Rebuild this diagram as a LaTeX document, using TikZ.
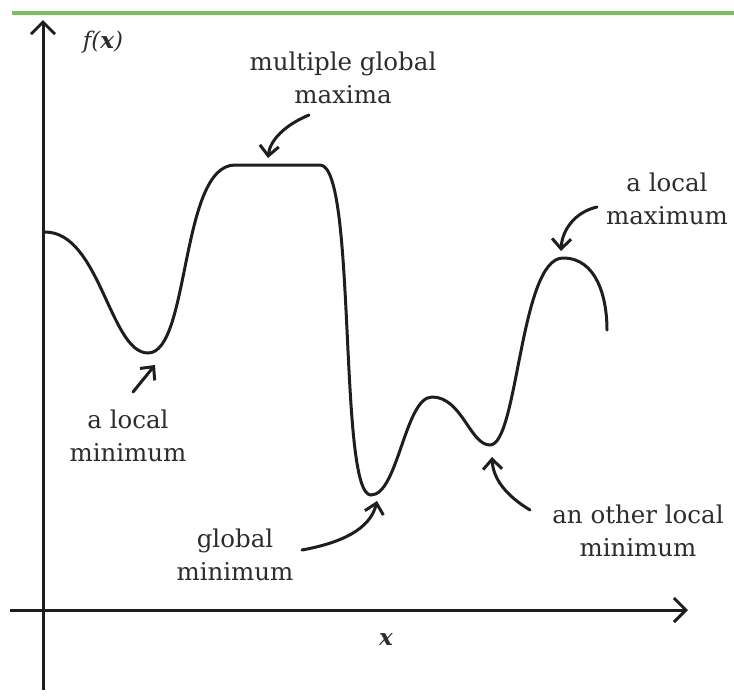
\documentclass[tikz,border=0pt]{standalone}
\usepackage{fontspec}
\setmainfont{DejaVu Serif}
\usetikzlibrary{arrows.meta}
\definecolor{topgreen}{RGB}{118,192,96}
\definecolor{ink}{RGB}{30,30,30}
\definecolor{txt}{RGB}{45,45,45}
\begin{document}
\begin{tikzpicture}[x=1pt,y=-1pt,
  axis/.style={line width=3pt,draw=ink,-{Straight Barb[length=12pt,width=24pt,line width=3pt]}},
  curve/.style={line width=3pt,draw=ink,line cap=round},
  pointer/.style={line width=3pt,draw=ink,line cap=round,-{Straight Barb[length=10pt,width=19pt,line width=3pt]}},
  lbl/.style={text=txt,font=\fontsize{24.5}{33}\selectfont,align=center,inner sep=0pt}]
\useasboundingbox (0,0) rectangle (734,697);
% top rule
\draw[topgreen,line width=4.5pt] (12,13) -- (734,13);

% axes
\coordinate (ybot) at (43,690);
\coordinate (ytop) at (43,20);
\coordinate (xleft) at (10,610);
\coordinate (xright) at (688,610);
\draw[axis] (ybot) -- (ytop);
\draw[axis] (xleft) -- (xright);
\node[lbl,font=\fontsize{23}{26}\selectfont] (fx) at (103,42) {\textit{f(\textbf{x})}};
\node[lbl,font=\fontsize{23}{26}\selectfont] (xl) at (386,640) {\textbf{\textit{x}}};

% the function
\coordinate (lmin) at (148,353);
\coordinate (gmin) at (371,495);
\coordinate (bump) at (432,397);
\coordinate (omin) at (490,445);
\coordinate (lmax) at (563,258);
\draw[curve] (45,232) .. controls (100,232) and (110,353) .. (lmin)
  .. controls (190,353) and (180,165) .. (235,165) -- (320,165)
  .. controls (357,165) and (338,495) .. (gmin)
  .. controls (398,495) and (405,397) .. (bump)
  .. controls (462,397) and (470,445) .. (omin)
  .. controls (518,445) and (520,258) .. (lmax)
  .. controls (597,258) and (607,298) .. (607,330);

% labels
\node[lbl] (tmax) at (343,78) {multiple global\\maxima};
\node[lbl] (tlmax) at (667,199) {a local\\maximum};
\node[lbl] (tlmin) at (128,436) {a local\\minimum};
\node[lbl] (tgmin) at (235,555) {global\\minimum};
\node[lbl] (tomin) at (638,531) {an other local\\minimum};

% pointers
\coordinate (pa) at (309,115);
\coordinate (pb) at (597,207);
\coordinate (pc) at (133,392);
\coordinate (pd) at (302,550);
\coordinate (pe) at (530,510);
\draw[pointer] (pa) .. controls (285,125) and (270,140) .. (268,158);
\draw[pointer] (pb) .. controls (575,212) and (562,230) .. (561,251);
\draw[pointer] (pc) -- (155,365);
\draw[pointer] (pd) .. controls (340,543) and (370,530) .. (377,501);
\draw[pointer] (pe) .. controls (505,495) and (493,478) .. (492,457);
\end{tikzpicture}
\end{document}
